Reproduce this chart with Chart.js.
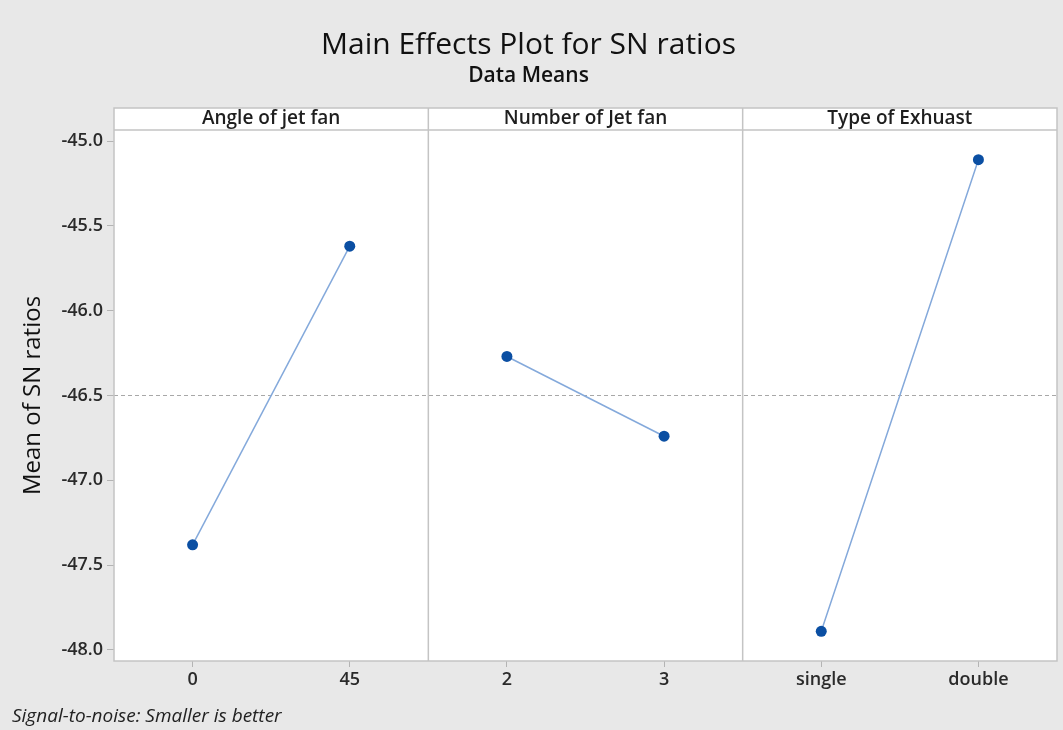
<!DOCTYPE html>
<html>
<head>
<meta charset="utf-8">
<script src="https://cdn.jsdelivr.net/npm/chart.js@4/dist/chart.umd.min.js"></script>
<style>
  html, body { margin: 0; padding: 0; background: #e8e8e8; }
  #wrap { width: 1063px; height: 730px; }
</style>
</head>
<body>
<div id="wrap"><canvas id="myChart" width="1063" height="730"></canvas></div>
<script>
// factors shown in the three panels
const panelTitles = ["Angle of jet fan", "Number of Jet fan", "Type of Exhuast"];
const angleLevels = ["0", "45"];
const numberLevels = ["2", "3"];
const exhaustLevels = ["single", "double"];

// mean of SN ratios per level
const angleMeans = [-47.38, -45.62];
const numberMeans = [-46.27, -46.74];
const exhaustMeans = [-47.89, -45.11];

const grandMean = -46.5;
const yTicks = [-48.0, -47.5, -47.0, -46.5, -46.0, -45.5, -45.0];

const FONT = "'Open Sans', 'Noto Sans', sans-serif";
const chart = document.querySelector("#myChart");

const panelPlugin = {
  id: "panels",
  beforeDraw(c) {
    const { ctx, chartArea } = c;
    ctx.save();
    ctx.fillStyle = "#e8e8e8";
    ctx.fillRect(0, 0, c.width, c.height);
    ctx.fillStyle = "#ffffff";
    ctx.fillRect(chartArea.left, chartArea.top - 22, chartArea.right - chartArea.left, chartArea.bottom - chartArea.top + 22);
    ctx.restore();
  },
  beforeDatasetsDraw(c) {
    const { ctx, chartArea } = c;
    const top = chartArea.top - 22;
    const xs = ["x1", "x2", "x3"].map((id) => c.scales[id]);
    ctx.save();
    // mean line
    const ym = c.scales.y.getPixelForValue(grandMean);
    ctx.strokeStyle = "#a8a8a8";
    ctx.lineWidth = 1;
    ctx.setLineDash([4, 3]);
    ctx.beginPath();
    ctx.moveTo(chartArea.left, ym);
    ctx.lineTo(chartArea.right, ym);
    ctx.stroke();
    ctx.setLineDash([]);
    // frame, header line, dividers
    ctx.strokeStyle = "#c4c4c4";
    ctx.lineWidth = 1.5;
    ctx.strokeRect(chartArea.left, top, chartArea.right - chartArea.left, chartArea.bottom - top);
    ctx.beginPath();
    ctx.moveTo(chartArea.left, chartArea.top);
    ctx.lineTo(chartArea.right, chartArea.top);
    xs.slice(0, -1).forEach((s) => {
      ctx.moveTo(s.right, top);
      ctx.lineTo(s.right, chartArea.bottom);
    });
    ctx.stroke();
    // headers
    ctx.fillStyle = "#1e1e1e";
    ctx.font = "600 19px " + FONT;
    ctx.textAlign = "center";
    ctx.textBaseline = "middle";
    xs.forEach((s, i) => {
      ctx.fillText(panelTitles[i], (s.left + s.right) / 2, top + 11);
    });
    ctx.restore();
  },
  afterDraw(c) {
    const { ctx } = c;
    ctx.save();
    ctx.fillStyle = "#222";
    ctx.font = "italic 19px " + FONT;
    ctx.textAlign = "left";
    ctx.textBaseline = "middle";
    ctx.fillText("Signal-to-noise: Smaller is better", 12, 717);
    ctx.restore();
  },
};

const makeSet = (data, axis) => ({
  data: data,
  xAxisID: axis,
  borderColor: "#84a9db",
  borderWidth: 1.5,
  pointRadius: 5.5,
  pointHoverRadius: 5.5,
  pointBackgroundColor: "#0b4fa3",
  pointBorderColor: "#0b4fa3",
  pointBorderWidth: 0,
  tension: 0,
});

const makeX = (labels) => ({
  type: "category",
  labels: labels,
  position: "bottom",
  stack: "panels",
  offset: true,
  border: { display: false },
  grid: { drawOnChartArea: false, offset: false, tickLength: 6, color: "#b4b4b4" },
  ticks: { color: "#2a2a2a", padding: 2, font: { family: FONT, size: 18, weight: "600" } },
  afterFit: (s) => { s.height = 40; },
});

const config = {
  type: "line",
  data: {
    datasets: [
      makeSet(angleMeans, "x1"),
      makeSet(numberMeans, "x2"),
      makeSet(exhaustMeans, "x3"),
    ],
  },
  options: {
    responsive: false,
    animation: false,
    layout: { padding: { top: 0, left: 0, right: 6, bottom: 29 } },
    plugins: {
      legend: { display: false },
      tooltip: { enabled: false },
      title: {
        display: true,
        text: "Main Effects Plot for SN ratios",
        color: "#111",
        font: { family: FONT, size: 30, weight: "500", lineHeight: 1.2 },
        padding: { top: 27, bottom: 0 },
      },
      subtitle: {
        display: true,
        text: "Data Means",
        color: "#111",
        font: { family: FONT, size: 21, weight: "600", lineHeight: 1.2 },
        padding: { top: 0, bottom: 41.8 },
      },
    },
    scales: {
      x1: makeX(angleLevels),
      x2: makeX(numberLevels),
      x3: makeX(exhaustLevels),
      y: {
        type: "linear",
        min: -48.065,
        max: -44.935,
        border: { display: false },
        grid: { drawOnChartArea: false, tickLength: 7, color: "#b4b4b4" },
        afterBuildTicks: (s) => { s.ticks = yTicks.map((v) => ({ value: v })); },
        ticks: {
          color: "#2a2a2a",
          padding: 4,
          font: { family: FONT, size: 18, weight: "600" },
          callback: (v) => Number(v).toFixed(1),
        },
        title: {
          display: true,
          text: "Mean of SN ratios",
          color: "#111",
          padding: { top: 19, bottom: 0 },
          font: { family: FONT, size: 24, weight: "normal", lineHeight: 1.2 },
        },
        afterFit: (s) => { s.width = 114; },
      },
    },
  },
  plugins: [panelPlugin],
};

new Chart(chart, config);
</script>
</body>
</html>
